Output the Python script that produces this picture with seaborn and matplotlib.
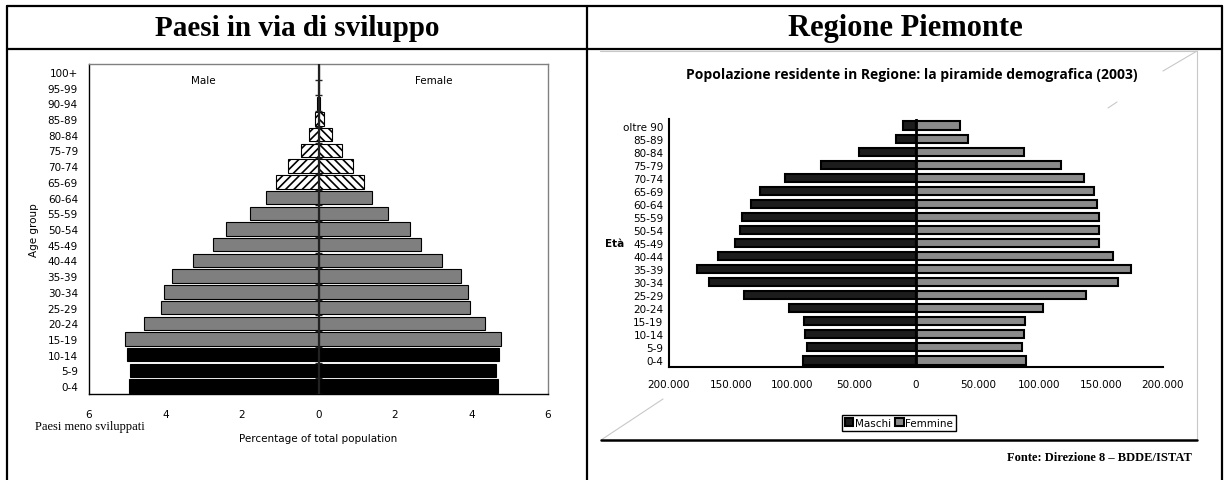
## piramidi demografiche: paesi in via di sviluppo vs Regione Piemonte
import matplotlib
matplotlib.use("Agg")
from matplotlib import pyplot as plt
from matplotlib.lines import Line2D
from matplotlib.ticker import FuncFormatter, FixedLocator, NullFormatter
from matplotlib import font_manager
import seaborn as sns
import pandas as pd
import numpy as np

# --- dati: paesi meno sviluppati (% della popolazione totale)
eta_sv = ["100+", "95-99", "90-94", "85-89", "80-84", "75-79", "70-74", "65-69",
          "60-64", "55-59", "50-54", "45-49", "40-44", "35-39", "30-34", "25-29",
          "20-24", "15-19", "10-14", "5-9", "0-4"]
maschi_sv = [0.0, 0.01, 0.03, 0.1, 0.25, 0.47, 0.8, 1.1, 1.36, 1.8, 2.41, 2.76,
             3.29, 3.83, 4.05, 4.11, 4.56, 5.05, 5.01, 4.93, 4.96]
femmine_sv = [0.01, 0.02, 0.05, 0.14, 0.35, 0.62, 0.9, 1.2, 1.4, 1.81, 2.38, 2.69,
              3.22, 3.72, 3.92, 3.96, 4.35, 4.77, 4.73, 4.64, 4.68]
gruppo_sv = ["anziani"] * 8 + ["adulti"] * 10 + ["giovani"] * 3

# --- dati: Regione Piemonte 2003 (residenti)
eta_pie = ["oltre 90", "85-89", "80-84", "75-79", "70-74", "65-69", "60-64", "55-59",
           "50-54", "45-49", "40-44", "35-39", "30-34", "25-29", "20-24", "15-19",
           "10-14", "5-9", "0-4"]
maschi_pie = [10300, 16200, 46400, 77200, 105800, 126300, 133600, 141100, 142500, 146800,
              160600, 177100, 167900, 139300, 103100, 90700, 89900, 88500, 91700]
femmine_pie = [35600, 41800, 87700, 117400, 136300, 144100, 146800, 148200, 147900, 148400,
               159800, 173800, 163800, 137700, 103100, 88000, 87200, 86100, 89300]

W, H = 1227, 481
def fx(x): return x / W
def fy(y): return 1 - y / H

sns.set_style("white")
plt.rcParams['font.family'] = ['DejaVu Sans']
plt.rcParams['hatch.linewidth'] = 1.2
for k in ["text.color", "axes.labelcolor", "xtick.color", "ytick.color"]:
    plt.rcParams[k] = "black"

# font stretto per il grafico regionale, se c'e'
installati = {f.name for f in font_manager.fontManager.ttflist}
stretto = next((f for f in ["Liberation Sans Narrow", "DejaVu Sans Condensed"] if f in installati),
               "DejaVu Sans")
dim_stretto = 8.5 if stretto != "DejaVu Sans" else 7.5

fig = plt.figure(figsize=(W / 100, H / 100), dpi=100)

## ---------------- sinistra
ax1 = fig.add_axes([fx(89), fy(395), fx(548) - fx(89), fy(65) - fy(395)])
df_sv = pd.DataFrame({"eta": eta_sv, "Male": maschi_sv, "Female": femmine_sv})
sns.barplot(x=-df_sv["Male"], y=df_sv["eta"], orient="h", color="#7f7f7f", width=0.85,
            edgecolor="black", linewidth=0.8, errorbar=None, ax=ax1)
sns.barplot(x=df_sv["Female"], y=df_sv["eta"], orient="h", color="#7f7f7f", width=0.85,
            edgecolor="black", linewidth=0.8, errorbar=None, ax=ax1)
stile = {"giovani": "black", "adulti": "#7f7f7f", "anziani": "white"}
for cont, tratteggio in zip(ax1.containers, ["////", "\\\\\\\\"]):
    for bar, g in zip(cont, gruppo_sv):
        bar.set_facecolor(stile[g])
        if g == "anziani":
            bar.set_hatch(tratteggio)
ax1.set_xlim(-6, 6)
ax1.set_ylim(len(eta_sv) - 0.5, -0.5)
ax1.set_xticks(np.arange(-6, 7, 2))
ax1.xaxis.set_major_formatter(FuncFormatter(lambda v, p: f"{abs(v):.0f}"))
ax1.tick_params(axis="x", length=3, direction="out", labelsize=7.5, pad=8, color="black")
ax1.tick_params(axis="y", length=0, labelsize=7.5, pad=8)
ax1.set_xlabel("Percentage of total population", fontsize=7.5, labelpad=10)
ax1.set_ylabel("Age group", fontsize=7.5, labelpad=6)
for s in ["left", "bottom"]:
    ax1.spines[s].set_color("black")
    ax1.spines[s].set_linewidth(1)
for s in ["top", "right"]:
    ax1.spines[s].set_color("#808080")
    ax1.spines[s].set_linewidth(1)
ax1.axvline(0, color="#222222", lw=1.6, zorder=4)
ax1.hlines(np.arange(len(eta_sv)) + 0.5, -0.08, 0.08, color="#222222", lw=1, zorder=4)
ax1.text(-3, 0.5, "Male", ha="center", va="center", fontsize=7.5)
ax1.text(3, 0.5, "Female", ha="center", va="center", fontsize=7.5)
fig.text(fx(35), fy(427), "Paesi meno sviluppati", family="Liberation Serif", fontsize=9, va="center")

## ---------------- destra
ax2 = fig.add_axes([fx(669), fy(368), fx(1163) - fx(669), fy(120) - fy(368)])
sns.barplot(x=-np.array(maschi_pie), y=eta_pie, orient="h", color="#1c1c1c", width=0.62,
            edgecolor="black", linewidth=1.5, errorbar=None, ax=ax2)
sns.barplot(x=np.array(femmine_pie), y=eta_pie, orient="h", color="#8a8a8a", width=0.62,
            edgecolor="black", linewidth=1.5, errorbar=None, ax=ax2)
ax2.set_xlim(-200000, 200000)
ax2.set_ylim(len(eta_pie) - 0.5, -0.5)
ax2.set_xticks(np.arange(-200000, 200001, 50000))
ax2.xaxis.set_major_formatter(FuncFormatter(lambda v, p: f"{abs(v):,.0f}".replace(",", ".")))
ax2.tick_params(axis="x", length=4, direction="out", labelsize=dim_stretto, pad=5, width=1.2)
ax2.yaxis.set_major_locator(FixedLocator(np.arange(len(eta_pie) + 1) - 0.5))
ax2.yaxis.set_major_formatter(NullFormatter())
ax2.set_yticks(range(len(eta_pie)), eta_pie, minor=True)
ax2.tick_params(axis="y", which="major", length=3, direction="out", width=1)
ax2.tick_params(axis="y", which="minor", length=0, labelsize=dim_stretto, pad=4)
for t in ax2.get_xticklabels() + ax2.get_yticklabels(minor=True):
    t.set_family(stretto)
ax2.set_xlabel("")
ax2.set_ylabel("Età", rotation=0, fontsize=dim_stretto, fontweight="bold", family=stretto,
               labelpad=6, va="center")
for s in ["top", "right"]:
    ax2.spines[s].set_visible(False)
for s in ["left", "bottom"]:
    ax2.spines[s].set_color("black")
    ax2.spines[s].set_linewidth(1.5)
ax2.axvline(0, color="black", lw=2, zorder=4)
ax2.legend([ax2.containers[0][0], ax2.containers[1][0]], ["Maschi", "Femmine"],
           loc="center", bbox_to_anchor=(fx(899), fy(424)), bbox_transform=fig.transFigure,
           ncol=2, fancybox=False, edgecolor="black", framealpha=1,
           prop={"family": stretto, "size": dim_stretto},
           handlelength=0.8, handleheight=0.8, handletextpad=0.15, columnspacing=0.4,
           borderpad=0.3)
fig.text(fx(912), fy(75), "Popolazione residente in Regione: la piramide demografica (2003)",
         family="Open Sans", fontweight="bold", fontsize=10, ha="center", va="center")
fig.text(fx(1192), fy(458), "Fonte: Direzione 8 \u2013 BDDE/ISTAT", family="Liberation Serif",
         fontweight="bold", fontsize=9, ha="right", va="center")

## ---------------- tabella e cornici
def linea(x0, y0, x1, y1, **kw):
    fig.add_artist(Line2D([fx(x0), fx(x1)], [fy(y0), fy(y1)], transform=fig.transFigure, **kw))

nero = dict(color="black", lw=1.6)
linea(7, 7, 1222, 7, **nero)
linea(7, 50, 1222, 50, **nero)
linea(7, 7, 7, 481, **nero)
linea(587, 7, 587, 481, **nero)
linea(1222, 7, 1222, 481, **nero)
grigio = dict(color="#c8c8c8", lw=0.8)
linea(600, 52, 1197, 52, **grigio)
linea(1197, 52, 1197, 441, **grigio)
linea(601, 441, 663, 400, **grigio)
linea(1163, 72, 1197, 52, **grigio)
linea(1108, 109, 1117, 103, **grigio)
linea(601, 441, 1197, 441, color="black", lw=1.8)
fig.text(fx(297), fy(29), "Paesi in via di sviluppo", family="Liberation Serif",
         fontweight="bold", fontsize=21, ha="center", va="center")
fig.text(fx(905), fy(29), "Regione Piemonte", family="Liberation Serif",
         fontweight="bold", fontsize=22, ha="center", va="center")

fig.savefig("out.png", dpi=100)
